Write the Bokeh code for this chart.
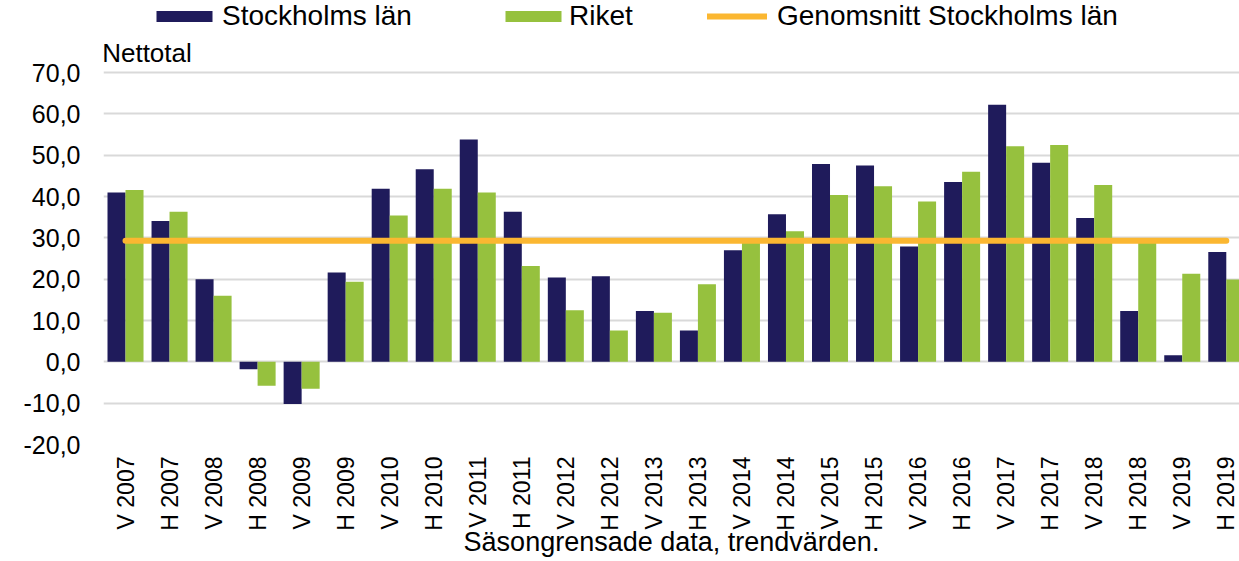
import math
from bokeh.plotting import figure
from bokeh.models import (ColumnDataSource, FixedTicker, CustomJSTickFormatter, Range1d,
                          Legend, LegendItem, Label)
from bokeh.embed import file_html
from bokeh.resources import INLINE

# ---------------- data ----------------
categories = ["V 2007", "H 2007", "V 2008", "H 2008", "V 2009", "H 2009",
              "V 2010", "H 2010", "V 2011", "H 2011", "V 2012", "H 2012",
              "V 2013", "H 2013", "V 2014", "H 2014", "V 2015", "H 2015",
              "V 2016", "H 2016", "V 2017", "H 2017", "V 2018", "H 2018",
              "V 2019", "H 2019"]
stockholm = [41.0, 34.1, 20.0, -1.8, -10.2, 21.6, 41.9, 46.6, 53.8, 36.3,
             20.4, 20.7, 12.3, 7.6, 27.0, 35.7, 47.9, 47.5, 27.9, 43.5,
             62.2, 48.2, 34.8, 12.3, 1.6, 26.6]
riket = [41.6, 36.3, 16.0, -5.8, -6.5, 19.4, 35.4, 41.9, 41.0, 23.2,
         12.5, 7.6, 11.9, 18.8, 29.2, 31.6, 40.4, 42.5, 38.8, 46.0,
         52.2, 52.5, 42.8, 29.2, 21.3, 19.9]
stockholm_average = 29.3
y_ticks = [-20, -10, 0, 10, 20, 30, 40, 50, 60, 70]
y_tick_labels = ["-20,0", "-10,0", "0,0", "10,0", "20,0", "30,0", "40,0",
                 "50,0", "60,0", "70,0"]
series_names = ["Stockholms län", "Riket", "Genomsnitt Stockholms län"]
y_title = "Nettotal"
x_title = "Säsongrensade data, trendvärden."

# ---------------- style ----------------
NAVY = "#1F1B5B"
GREEN = "#96C13E"
ORANGE = "#FBB731"
GRID = "#D9D9D9"
FONT = "Liberation Sans"
BAR_W = 0.409

n = len(categories)
centers = [i + 0.5 for i in range(n)]

src = ColumnDataSource(dict(
    x_st=[c - BAR_W / 2 for c in centers],
    x_ri=[c + BAR_W / 2 for c in centers],
    stockholm=stockholm,
    riket=riket,
))

p = figure(width=1239, height=561, output_backend="svg", toolbar_location=None,
           x_range=Range1d(0, 25.8), y_range=Range1d(-20, 87.44),
           min_border_left=103, min_border_right=0, min_border_top=0,
           min_border_bottom=117)
p.outline_line_color = None
p.background_fill_color = "white"

r_st = p.vbar(x="x_st", top="stockholm", bottom=0, width=BAR_W, source=src,
              fill_color=NAVY, line_color=None)
r_ri = p.vbar(x="x_ri", top="riket", bottom=0, width=BAR_W, source=src,
              fill_color=GREEN, line_color=None)
r_avg = p.line(x=[centers[0], centers[-1]],
               y=[stockholm_average, stockholm_average],
               line_color=ORANGE, line_width=6, line_cap="round")

# grid
p.xgrid.visible = False
p.ygrid.ticker = FixedTicker(ticks=y_ticks)
p.ygrid.grid_line_color = GRID
p.ygrid.grid_line_width = 2

# y axis
p.yaxis.ticker = FixedTicker(ticks=y_ticks)
p.yaxis.major_label_overrides = {t: l for t, l in zip(y_ticks, y_tick_labels)}
p.yaxis.axis_line_color = None
p.yaxis.major_tick_line_color = None
p.yaxis.minor_tick_line_color = None
p.yaxis.major_tick_out = 0
p.yaxis.major_tick_in = 0
p.yaxis.minor_tick_out = 0
p.yaxis.major_label_standoff = 23
p.yaxis.major_label_text_font = FONT
p.yaxis.major_label_text_font_size = "25px"
p.yaxis.major_label_text_color = "black"

# x axis
p.xaxis.ticker = FixedTicker(ticks=centers)
p.xaxis.formatter = CustomJSTickFormatter(
    args=dict(labels=categories),
    code="const i = Math.round(tick - 0.5); return (i >= 0 && i < labels.length) ? labels[i] : '';")
p.xaxis.major_label_orientation = math.pi / 2
p.xaxis.axis_line_color = None
p.xaxis.major_tick_line_color = None
p.xaxis.minor_tick_line_color = None
p.xaxis.major_tick_out = 0
p.xaxis.major_tick_in = 0
p.xaxis.minor_tick_out = 0
p.xaxis.major_label_standoff = 12
p.xaxis.major_label_text_font = FONT
p.xaxis.major_label_text_font_size = "23px"
p.xaxis.major_label_text_color = "black"
p.xaxis.axis_label = x_title
p.xaxis.axis_label_standoff = -7
p.xaxis.axis_label_text_font = FONT
p.xaxis.axis_label_text_font_size = "27px"
p.xaxis.axis_label_text_font_style = "normal"
p.xaxis.axis_label_text_color = "black"

# y title
p.add_layout(Label(x=-0.03, y=74.7, text=y_title, text_font=FONT,
                   text_font_size="26px", text_color="black",
                   text_baseline="alphabetic", text_align="left"))

# legends (three separate items placed as in the reference)
def make_legend(renderer, name, x, glyph_w, glyph_h, standoff):
    lg = Legend(items=[LegendItem(label=name, renderers=[renderer])],
                location=(x, 412), orientation="horizontal",
                glyph_width=glyph_w, glyph_height=glyph_h, label_standoff=standoff,
                padding=0, margin=0, spacing=0,
                border_line_color=None, background_fill_alpha=0,
                label_text_font=FONT, label_text_font_size="28px",
                label_text_color="black")
    p.add_layout(lg, "center")

make_legend(r_st, series_names[0], 46, 70, 14, 3)
make_legend(r_ri, series_names[1], 395, 70, 14, 1)
make_legend(r_avg, series_names[2], 604, 60, 14, 10)

open("out.html", "w").write(file_html(p, INLINE))
